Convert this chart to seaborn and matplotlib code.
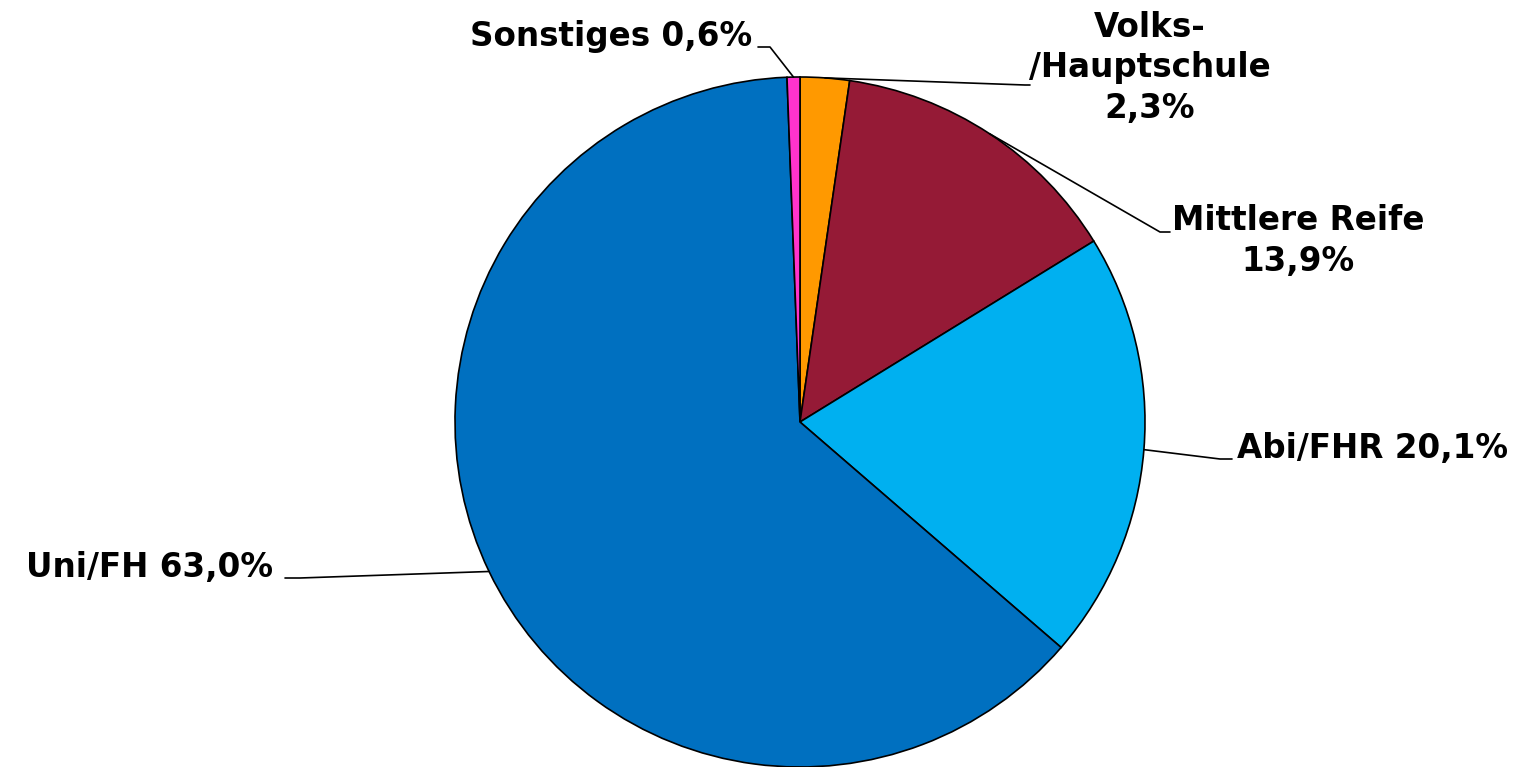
import numpy as np
import matplotlib
matplotlib.use('Agg')
import matplotlib.pyplot as plt
import seaborn as sns

sns.set_style('white')
plt.rcParams['font.family'] = ['DejaVu Sans']

# Daten: Schulabschluss, im Uhrzeigersinn ab 12 Uhr
categories = ['Volks-/Hauptschule', 'Mittlere Reife', 'Abi/FHR', 'Uni/FH', 'Sonstiges']
shares = [2.3, 13.9, 20.1, 63.0, 0.6]
labels = ['Volks-\n/Hauptschule\n2,3%', 'Mittlere Reife\n13,9%', 'Abi/FHR 20,1%',
          'Uni/FH 63,0%', 'Sonstiges 0,6%']
colors = ['#FF9900', '#951A36', '#00B0F0', '#0070C0', '#FF33CC']

R = 345.0  # Radius in Pixel
CX, CY = 800.0, 422.0

def px(x, y):
    return ((x - CX) / R, (CY - y) / R)

fig = plt.figure(figsize=(15.33, 7.67), dpi=100)
ax = fig.add_axes([0, 0, 1, 1])
wedges, _ = ax.pie(shares, colors=colors, startangle=90, counterclock=False,
                   radius=1, center=(0, 0),
                   wedgeprops=dict(edgecolor='black', linewidth=1.2))
ax.set_xlim(-CX / R, (1533 - CX) / R)
ax.set_ylim(-(767 - CY) / R, CY / R)
ax.set_aspect('equal')
ax.axis('off')

# Beschriftung: (Knick, Ende, Textpos, ha) in Pixel
label_pos = [
    ((1025, 85), (1030, 85), (1150, 68), 'center'),
    ((1160, 232), (1170, 232), (1298, 241), 'center'),
    ((1220, 459), (1232, 459), (1237, 449), 'left'),
    ((300, 578), (285, 578), (273, 568), 'right'),
    ((770, 47), (758, 47), (752, 37), 'right'),
]

for w, lab, (knee, end, tpos, ha) in zip(wedges, labels, label_pos):
    ang = np.deg2rad((w.theta1 + w.theta2) / 2)
    x0, y0 = np.cos(ang), np.sin(ang)
    k = px(*knee)
    e = px(*end)
    ax.plot([x0, k[0], e[0]], [y0, k[1], e[1]], color='black', lw=1.2)
    t = px(*tpos)
    ax.text(t[0], t[1], lab, ha=ha, va='center', multialignment='center',
            fontsize=23.5, fontweight='bold', linespacing=1.3, color='black')

fig.savefig('out.png', dpi=100)
